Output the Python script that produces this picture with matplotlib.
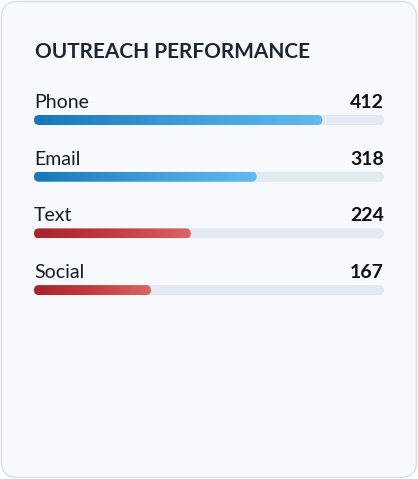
import matplotlib
matplotlib.use("Agg")
import matplotlib.pyplot as plt
from matplotlib.patches import FancyBboxPatch
from matplotlib.colors import LinearSegmentedColormap
import numpy as np

# data
channels = ["Phone", "Email", "Text", "Social"]
counts = [412, 318, 224, 167]
scale_max = 500
title = "OUTREACH PERFORMANCE"

plt.rcParams["font.family"] = ["Lato", "DejaVu Sans"]

W, H = 418, 479
fig = plt.figure(figsize=(W / 100, H / 100), dpi=100)
fig.patch.set_facecolor("white")

# card background in pixel coordinates
bg = fig.add_axes([0, 0, 1, 1])
bg.set_xlim(0, W)
bg.set_ylim(H, 0)
bg.axis("off")
card = FancyBboxPatch((1.5, 1.5), W - 3, H - 3,
                      boxstyle="round,pad=0,rounding_size=16",
                      facecolor="#f7f9fc", edgecolor="#d3dfe9", lw=1.0)
bg.add_patch(card)
bg.text(35, 58, title, fontsize=15, fontweight="bold", color="#1b2536",
        ha="left", va="baseline")

# bar axes: x in value units, y = row index
row_px = 56.7
top_px = 120 - row_px / 2
x0_px, x1_px = 34, 384
ax = fig.add_axes([x0_px / W, 1 - (top_px + 4 * row_px) / H,
                   (x1_px - x0_px) / W, 4 * row_px / H])
ax.axis("off")

px_x = scale_max / (x1_px - x0_px)   # value units per pixel
px_y = 1 / row_px                    # row units per pixel
bar_h = 10 * px_y
aspect = px_y / px_x

blue = LinearSegmentedColormap.from_list("b", ["#1677b8", "#3f9bd8", "#62baf0"])
red = LinearSegmentedColormap.from_list("r", ["#a8232a", "#c43a3f", "#dc6464"])
cmaps = [blue, blue, red, red]

grad = np.linspace(0, 1, 256).reshape(1, -1)
for i, (name, v) in enumerate(zip(channels, counts)):
    track = FancyBboxPatch((0, i - bar_h / 2), scale_max, bar_h,
                           boxstyle=f"round,pad=0,rounding_size={5 * px_x}",
                           mutation_aspect=aspect,
                           facecolor="#e3e9f0", edgecolor="none", zorder=1)
    ax.add_patch(track)
    bar = FancyBboxPatch((0, i - bar_h / 2), v, bar_h,
                         boxstyle=f"round,pad=0,rounding_size={5 * px_x}",
                         mutation_aspect=aspect,
                         facecolor="none", edgecolor="none", zorder=1)
    ax.add_patch(bar)
    im = ax.imshow(grad, cmap=cmaps[i], aspect="auto",
                   extent=(0, v, i + bar_h / 2, i - bar_h / 2),
                   interpolation="bilinear", zorder=2)
    im.set_clip_path(bar)

    ax.text(0, i - 12 * px_y, name, fontsize=14, color="#141c28",
            ha="left", va="baseline")
    ax.text(scale_max, i - 12 * px_y, str(v), fontsize=14, fontweight="bold",
            color="#0d1117", ha="right", va="baseline")

ax.set_xlim(0, scale_max)
ax.set_ylim(3.5, -0.5)

fig.savefig("out.png", dpi=100, facecolor="white")
